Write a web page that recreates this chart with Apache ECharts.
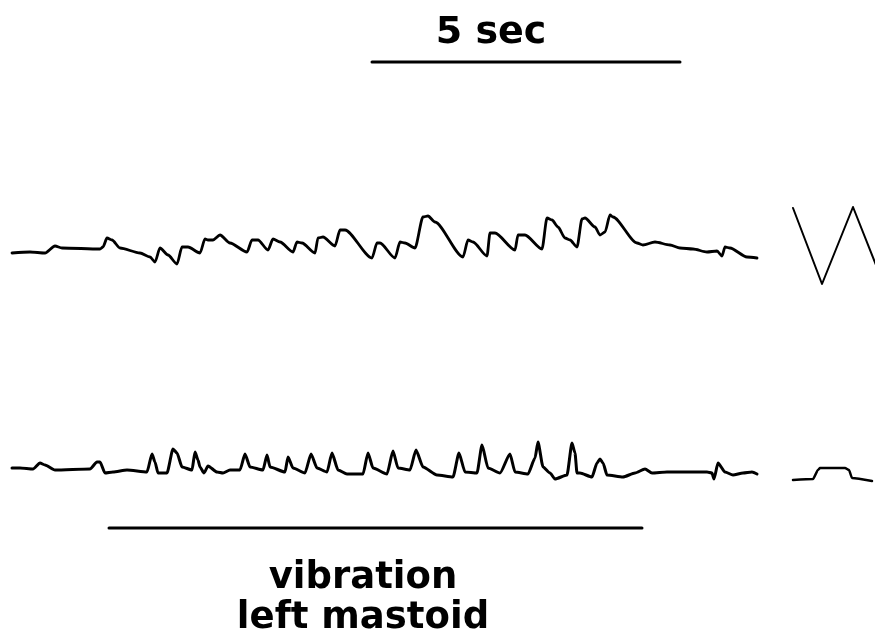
<!DOCTYPE html>
<html>
<head>
<meta charset="utf-8">
<script src="https://cdn.jsdelivr.net/npm/echarts@6/dist/echarts.min.js"></script>
<style>
    html, body { margin: 0; padding: 0; background: #fff; }
    #chart { width: 875px; height: 637px; }
</style>
</head>
<body>
<div id="chart"></div>
<script>
// 轨迹数据 (x, y 以图面单位记)
var horizTrace = [[12,253],[30,252],[45,253],[55,246],[62,248],[100,249],[103,247],[107,238],[112,240],[120,248],[140,253],[150,257],[155,262],[160,248],[168,255],[177,264],[182,247],[188,247],[200,253],[205,239],[208,240],[213,240],[220,235],[230,243],[247,252],[252,240],[258,240],[268,250],[273,239],[280,242],[293,252],[297,242],[302,243],[315,253],[318,238],[323,237],[335,246],[340,230],[345,230],[372,258],[377,243],[380,243],[395,258],[400,242],[405,243],[415,248],[423,217],[428,216],[435,222],[463,257],[468,240],[473,242],[487,256],[490,233],[495,233],[515,250],[518,235],[525,235],[542,249],[547,218],[552,220],[558,227],[565,238],[570,240],[577,247],[582,219],[585,218],[595,227],[600,235],[605,232],[610,215],[613,217],[637,243],[643,245],[655,242],[670,245],[680,248],[693,249],[707,252],[717,251],[722,256],[725,247],[730,248],[747,257],[757,258]];

var horizCal = [[793,208],[822,284],[853,207],[878,270]];

var velTrace = [[12,468],[20,468],[33,469],[40,463],[45,465],[55,470],[90,469],[97,462],[100,462],[105,473],[113,472],[127,470],[147,472],[152,454],[155,462],[158,473],[167,473],[173,449],[177,453],[182,467],[192,470],[195,452],[198,460],[200,467],[204,473],[208,466],[217,472],[223,473],[230,470],[240,470],[245,454],[250,467],[263,470],[267,455],[270,467],[285,472],[288,457],[293,468],[305,473],[311,454],[317,468],[327,472],[332,453],[338,470],[347,474],[363,474],[368,453],[373,468],[387,474],[393,451],[398,468],[410,470],[416,450],[423,467],[437,475],[453,477],[459,453],[465,472],[477,473],[482,445],[488,468],[500,473],[510,454],[515,472],[528,474],[535,458],[538,442],[543,467],[550,473],[555,479],[567,475],[572,443],[575,453],[577,473],[580,473],[592,477],[597,463],[600,459],[603,463],[607,475],[623,477],[635,473],[645,469],[652,473],[667,472],[687,472],[707,472],[712,473],[714,479],[718,463],[725,472],[733,475],[743,473],[752,472],[757,474]];

var velCal = [[793,480],[813,479],[818,470],[820,468],[845,468],[849,470],[852,478],[872,481]];

// 标尺 (5 sec) 与刺激时段
var timeBar = [[372,62],[680,62]];
var stimBar = [[109,528],[642,528]];

var timeLabel = '5 sec';
var stimLabel = 'vibration\nleft mastoid';

var myChart = echarts.init(document.getElementById('chart'));

function traceSeries(data, width, smooth) {
    return {
        type: 'line',
        data: data,
        showSymbol: false,
        silent: true,
        smooth: smooth || false,
        smoothMonotone: 'x',
        lineStyle: {
            width: width,
            color: '#000',
            join: 'round',
            cap: 'round'
        }
    };
}

var option = {
    backgroundColor: '#fff',
    animation: false,
    grid: {
        left: 0,
        top: 0,
        right: 0,
        bottom: 0
    },
    xAxis: {
        type: 'value',
        min: 0,
        max: 875,
        show: false
    },
    yAxis: {
        type: 'value',
        min: 0,
        max: 637,
        inverse: true,
        show: false
    },
    graphic: [{
        type: 'text',
        x: 491,
        y: 14,
        style: {
            text: timeLabel,
            font: 'bold 38px "DejaVu Sans"',
            textAlign: 'center',
            fill: '#000'
        }
    }, {
        type: 'text',
        x: 363,
        y: 558,
        style: {
            text: stimLabel,
            font: 'bold 37px "DejaVu Sans"',
            lineHeight: 40,
            textAlign: 'center',
            fill: '#000'
        }
    }],
    series: [
        traceSeries(horizTrace, 2.8, 0.25),
        traceSeries(horizCal, 2),
        traceSeries(velTrace, 3, 0.2),
        traceSeries(velCal, 2.5, 0.2),
        traceSeries(timeBar, 3),
        traceSeries(stimBar, 3)
    ]
};

myChart.setOption(option);
</script>
</body>
</html>
